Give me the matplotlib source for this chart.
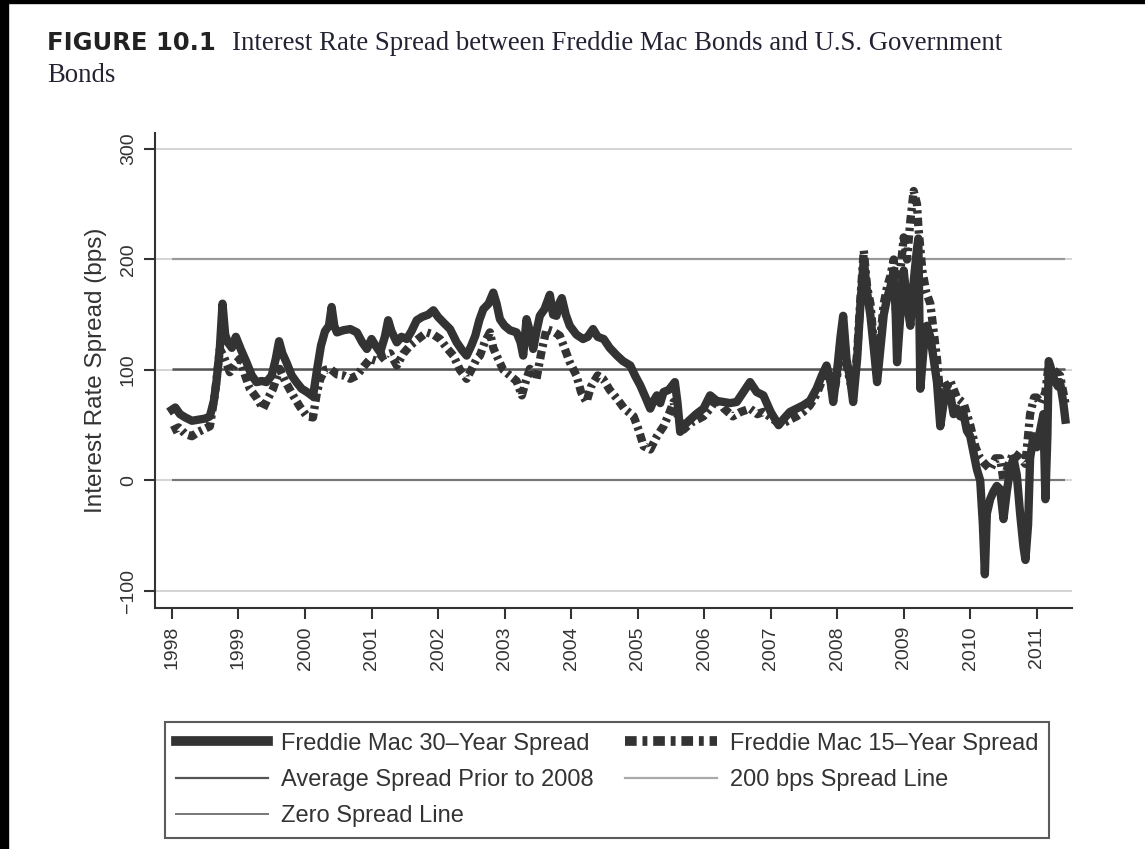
import matplotlib
matplotlib.use("Agg")
import matplotlib.pyplot as plt
from matplotlib.lines import Line2D
from matplotlib.patches import Rectangle

# Freddie Mac 30-year spread (bps), decimal-year dates
t30 = [1998.00, 1998.05, 1998.12, 1998.20, 1998.30, 1998.40, 1998.50, 1998.57, 1998.63, 1998.67,
       1998.72, 1998.76, 1998.80, 1998.84, 1998.90, 1998.96, 1999.04, 1999.12, 1999.20, 1999.27,
       1999.35, 1999.42, 1999.50, 1999.56, 1999.61, 1999.66, 1999.72, 1999.80, 1999.87, 1999.95,
       2000.03, 2000.12, 2000.18, 2000.24, 2000.30, 2000.36, 2000.40, 2000.44, 2000.48, 2000.58,
       2000.68, 2000.78, 2000.86, 2000.93, 2001.00, 2001.06, 2001.13, 2001.20, 2001.25, 2001.30,
       2001.38, 2001.45, 2001.53, 2001.60, 2001.68, 2001.76, 2001.85, 2001.93, 2002.00, 2002.08,
       2002.18, 2002.28, 2002.36, 2002.43, 2002.50, 2002.56, 2002.62, 2002.68, 2002.76, 2002.83,
       2002.88, 2002.93, 2003.00, 2003.08, 2003.18, 2003.24, 2003.28, 2003.33, 2003.38, 2003.43,
       2003.48, 2003.53, 2003.60, 2003.68, 2003.73, 2003.78, 2003.82, 2003.86, 2003.92, 2003.98,
       2004.08, 2004.18, 2004.25, 2004.33, 2004.40, 2004.49, 2004.58, 2004.69, 2004.78, 2004.89,
       2004.96, 2005.04, 2005.12, 2005.19, 2005.24, 2005.29, 2005.34, 2005.39, 2005.47, 2005.56,
       2005.60, 2005.64, 2005.70, 2005.79, 2005.88, 2005.99, 2006.09, 2006.19, 2006.29, 2006.39,
       2006.49, 2006.59, 2006.69, 2006.79, 2006.89, 2007.00, 2007.12, 2007.20, 2007.29, 2007.39,
       2007.49, 2007.59, 2007.69, 2007.77, 2007.84, 2007.90, 2007.94, 2008.00, 2008.05, 2008.09,
       2008.14, 2008.20, 2008.24, 2008.30, 2008.35, 2008.40, 2008.45, 2008.50, 2008.55, 2008.60,
       2008.65, 2008.70, 2008.75, 2008.80, 2008.85, 2008.88, 2008.90, 2008.95, 2009.00, 2009.05,
       2009.10, 2009.15, 2009.20, 2009.22, 2009.25, 2009.30, 2009.35, 2009.40, 2009.45, 2009.50,
       2009.55, 2009.60, 2009.65, 2009.70, 2009.75, 2009.80, 2009.85, 2009.90, 2009.95, 2010.00,
       2010.05, 2010.10, 2010.15, 2010.19, 2010.22, 2010.25, 2010.30, 2010.35, 2010.40, 2010.45,
       2010.50, 2010.55, 2010.60, 2010.65, 2010.70, 2010.75, 2010.80, 2010.83, 2010.87, 2010.90,
       2010.95, 2011.00, 2011.05, 2011.10, 2011.13, 2011.16, 2011.18, 2011.22, 2011.27, 2011.32,
       2011.35, 2011.40, 2011.43]
s30 = [64, 66, 60, 57, 54, 55, 56, 58, 72, 90,
       120, 160, 132, 125, 120, 130, 118, 107, 95, 89,
       90, 89, 95, 110, 126, 115, 107, 95, 89, 83,
       80, 76, 100, 122, 135, 140, 157, 140, 134, 136,
       137, 134, 125, 119, 128, 122, 116, 130, 145, 135,
       125, 130, 128, 135, 145, 148, 150, 154, 148, 143,
       137, 125, 118, 113, 122, 131, 145, 155, 160, 170,
       160, 146, 140, 136, 134, 125, 113, 146, 135, 119,
       135, 149, 155, 168, 150, 149, 160, 165, 150, 140,
       132, 128, 130, 137, 130, 128, 120, 113, 108, 104,
       95, 86, 75, 65, 72, 77, 70, 80, 82, 89,
       70, 44, 50, 55, 60, 65, 77, 72, 71, 70,
       71, 80, 89, 80, 77, 62, 50, 56, 62, 65,
       68, 72, 83, 95, 104, 90, 71, 100, 130, 149,
       110, 90, 71, 110, 160, 200, 170, 149, 120, 89,
       120, 150, 165, 175, 190, 150, 107, 150, 190, 160,
       140, 180, 210, 219, 83, 120, 140, 130, 110, 89,
       49, 70, 80, 78, 60, 65, 58, 60, 45, 40,
       25, 10, 0, -40, -85, -30, -17, -10, -5, -8,
       -35, -10, 10, 20, 5, -30, -60, -72, -40, 20,
       40, 30, 45, 60, -17, 40, 108, 100, 90, 85,
       89, 70, 55]

# Freddie Mac 15-year spread (bps)
t15 = [1998.00, 1998.10, 1998.20, 1998.30, 1998.40, 1998.50, 1998.57, 1998.65, 1998.72, 1998.78,
       1998.87, 1998.95, 1999.02, 1999.10, 1999.17, 1999.27, 1999.37, 1999.45, 1999.52, 1999.62,
       1999.70, 1999.82, 1999.92, 2000.03, 2000.12, 2000.18, 2000.23, 2000.30, 2000.38, 2000.48,
       2000.58, 2000.68, 2000.78, 2000.88, 2000.98, 2001.08, 2001.18, 2001.28, 2001.38, 2001.48,
       2001.58, 2001.70, 2001.83, 2001.93, 2002.03, 2002.13, 2002.23, 2002.33, 2002.43, 2002.50,
       2002.58, 2002.63, 2002.70, 2002.78, 2002.83, 2002.88, 2002.98, 2003.08, 2003.18, 2003.26,
       2003.32, 2003.38, 2003.48, 2003.55, 2003.63, 2003.73, 2003.83, 2003.90, 2003.98, 2004.08,
       2004.15, 2004.23, 2004.30, 2004.40, 2004.48, 2004.58, 2004.69, 2004.80, 2004.94, 2005.02,
       2005.09, 2005.19, 2005.29, 2005.39, 2005.47, 2005.54, 2005.62, 2005.69, 2005.80, 2005.99,
       2006.09, 2006.19, 2006.30, 2006.43, 2006.55, 2006.69, 2006.80, 2006.89, 2007.00, 2007.09,
       2007.20, 2007.29, 2007.39, 2007.49, 2007.59, 2007.69, 2007.77, 2007.84, 2007.90, 2007.94,
       2008.00, 2008.05, 2008.09, 2008.14, 2008.20, 2008.24, 2008.30, 2008.35, 2008.40, 2008.45,
       2008.50, 2008.55, 2008.60, 2008.65, 2008.70, 2008.75, 2008.80, 2008.85, 2008.90, 2008.95,
       2009.00, 2009.05, 2009.10, 2009.15, 2009.20, 2009.22, 2009.28, 2009.34, 2009.40, 2009.45,
       2009.50, 2009.55, 2009.60, 2009.65, 2009.70, 2009.80, 2009.90, 2010.00, 2010.08, 2010.15,
       2010.22, 2010.30, 2010.38, 2010.45, 2010.50, 2010.58, 2010.65, 2010.75, 2010.83, 2010.90,
       2010.96, 2011.00, 2011.07, 2011.13, 2011.18, 2011.25, 2011.35, 2011.43]
s15 = [45, 48, 42, 40, 44, 47, 49, 80, 119, 112,
       98, 105, 110, 95, 83, 75, 65, 75, 83, 101,
       90, 77, 67, 58, 57, 80, 92, 100, 101, 96,
       95, 92, 95, 103, 110, 108, 113, 115, 104, 115,
       122, 128, 134, 132, 128, 120, 113, 100, 92, 100,
       110, 113, 125, 134, 120, 113, 100, 95, 90, 77,
       90, 101, 92, 115, 137, 135, 131, 120, 107, 95,
       80, 71, 85, 95, 92, 82, 74, 65, 58, 45,
       31, 28, 40, 49, 60, 71, 55, 46, 52, 58,
       65, 74, 65, 58, 62, 65, 60, 62, 57, 53,
       52, 55, 58, 62, 68, 78, 90, 100, 90, 75,
       95, 125, 140, 105, 88, 80, 115, 165, 208, 175,
       160, 125, 100, 130, 160, 175, 185, 200, 130, 190,
       220, 200, 235, 262, 250, 230, 190, 170, 160, 135,
       110, 75, 90, 85, 90, 75, 70, 50, 30, 20,
       15, 10, 20, 20, 0, 15, 25, 20, 15, 60,
       75, 75, 70, 80, 105, 100, 95, 70]

avg_pre2008 = 101
ref_200 = 200
ref_zero = 0
year_ticks = list(range(1998, 2012))
y_ticks = [-100, 0, 100, 200, 300]

labels = ["Freddie Mac 30\u2013Year Spread", "Average Spread Prior to 2008", "Zero Spread Line",
          "Freddie Mac 15\u2013Year Spread", "200 bps Spread Line"]

plt.rcParams["font.family"] = ["Liberation Sans", "DejaVu Sans"]
ink = "#333333"
dash15 = (0, (1.0, 0.5, 0.4, 0.5))

fig = plt.figure(figsize=(11.45, 8.49), dpi=100)
fig.patch.set_facecolor("white")
# black scan border on the left and top
fig.add_artist(Rectangle((0, 0), 8 / 1145, 1, transform=fig.transFigure, color="black", zorder=10))
fig.add_artist(Rectangle((0, 1 - 3 / 849), 1, 3 / 849, transform=fig.transFigure, color="black", zorder=10))

ax = fig.add_axes([155 / 1145, (849 - 608) / 849, (1072 - 155) / 1145, (608 - 133) / 849])
ax.set_xlim(1997.745, 2011.53)
ax.set_ylim(-115.5, 314.5)

for v in y_ticks:
    ax.axhline(v, color="#d4d4d4", lw=1.4, zorder=1)

x0, x1 = t30[0], t30[-1]
ax.hlines(ref_200, x0, x1, color="#9a9a9a", lw=1.6, zorder=2)
ax.hlines(avg_pre2008, x0, x1, color="#555555", lw=1.8, zorder=2)
ax.hlines(ref_zero, x0, x1, color="#777777", lw=1.6, zorder=2)

ax.plot(t15, s15, color=ink, lw=6, linestyle=dash15, solid_capstyle="butt", zorder=3)
ax.plot(t30, s30, color=ink, lw=6, solid_joinstyle="round", zorder=4)

ax.set_xticks(year_ticks)
ax.set_xticklabels([str(y) for y in year_ticks], rotation=90, fontsize=14, color=ink)
ax.set_yticks(y_ticks)
ax.set_yticklabels([f"{v}".replace("-", "\u2212") for v in y_ticks], rotation=90, va="center",
                   fontsize=14, color=ink)
ax.tick_params(axis="both", length=8, width=1.5, color=ink, pad=5)
ax.set_ylabel("Interest Rate Spread (bps)", fontsize=17.5, color=ink, labelpad=9.5)
for side in ["top", "right"]:
    ax.spines[side].set_visible(False)
for side in ["left", "bottom"]:
    ax.spines[side].set_color(ink)
    ax.spines[side].set_linewidth(1.5)

handles = [
    Line2D([], [], color=ink, lw=7),
    Line2D([], [], color="#555555", lw=1.6),
    Line2D([], [], color="#777777", lw=1.4),
    Line2D([], [], color=ink, lw=7, linestyle=(0, (1.2, 0.6, 0.5, 0.6))),
    Line2D([], [], color="#aaaaaa", lw=1.6),
]
leg = fig.legend(handles, labels, ncol=2, loc="upper left",
                 bbox_to_anchor=(165 / 1145, 1 - 722 / 849), fontsize=17,
                 frameon=True, fancybox=False, handlelength=3.9, handletextpad=0.55,
                 labelspacing=0.6, columnspacing=1.35, borderpad=0.45, borderaxespad=0)
leg.get_frame().set_edgecolor(ink)
leg.get_frame().set_linewidth(1.5)
for txt in leg.get_texts():
    txt.set_color(ink)

# caption
fig.text(47 / 1145, 1 - 50 / 849, "FIGURE 10.1", fontsize=17.5, fontweight="bold",
         family="DejaVu Sans", color="#222222", va="baseline")
fig.text(232 / 1145, 1 - 50 / 849,
         "Interest Rate Spread between Freddie Mac Bonds and U.S. Government",
         fontsize=19.3, family="Liberation Serif", color="#222233", va="baseline")
fig.text(47 / 1145, 1 - 82 / 849, "Bonds", fontsize=19.3, family="Liberation Serif",
         color="#222233", va="baseline")

fig.savefig("out.png", dpi=100, facecolor="white")
